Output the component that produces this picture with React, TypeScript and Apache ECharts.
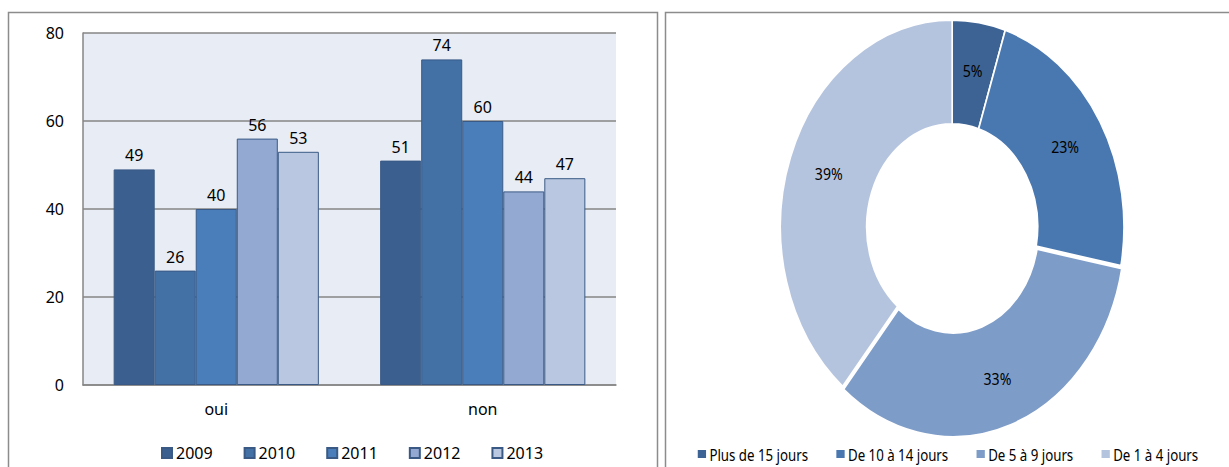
import React, { useEffect, useRef } from "react";
import * as echarts from "echarts";

const categories = ["oui", "non"];
const years = ["2009", "2010", "2011", "2012", "2013"];
const values2009 = [49, 51];
const values2010 = [26, 74];
const values2011 = [40, 60];
const values2012 = [56, 44];
const values2013 = [53, 47];
const yearValues = [values2009, values2010, values2011, values2012, values2013];
const barColors = ["#3B5F8E", "#4371A6", "#4A7EBB", "#93A9D1", "#B9C7E1"];
const yMin = 0;
const yMax = 80;
const yInterval = 20;

const durationLabels = ["Plus de 15 jours", "De 10 à 14 jours", "De 5 à 9 jours", "De 1 à 4 jours"];
const durationShares = [5, 23, 33, 39];
const pieColors = ["#3C6394", "#4977B0", "#7E9CC8", "#B5C4DE"];

const FONT = "Noto Sans";
const PIE_SCALE = 0.83;

export default function App() {
  const mainRef = useRef<HTMLDivElement>(null);
  const pieRef = useRef<HTMLDivElement>(null);

  useEffect(() => {
    const main = echarts.init(mainRef.current!, null, { renderer: "svg" });
    const pie = echarts.init(pieRef.current!, null, { renderer: "svg" });

    main.setOption({
      animation: false,
      textStyle: { fontFamily: FONT },
      graphic: [
        { type: "rect", shape: { x: 8.5, y: 12.5, width: 649, height: 480 }, style: { fill: "none", stroke: "#8C8C8C", lineWidth: 1.5 } },
        { type: "rect", shape: { x: 665.5, y: 12.5, width: 600, height: 480 }, style: { fill: "none", stroke: "#8C8C8C", lineWidth: 1.5 } },
      ],
      grid: {
        left: 83,
        top: 33,
        width: 533,
        height: 352,
        show: true,
        backgroundColor: "#E8ECF4",
        borderWidth: 0,
      },
      legend: {
        data: years,
        left: 156,
        top: 440,
        itemWidth: 10,
        itemHeight: 10,
        itemGap: 31,
        icon: "rect",
        textStyle: { fontFamily: FONT, fontSize: 16, color: "#000", padding: [0, 0, 0, -1] },
      },
      xAxis: {
        type: "category",
        data: categories,
        axisLine: { show: true, lineStyle: { color: "#868686", width: 1.5 } },
        axisTick: { show: false },
        axisLabel: { fontFamily: FONT, fontSize: 16, color: "#000", margin: 16 },
      },
      yAxis: {
        type: "value",
        min: yMin,
        max: yMax,
        interval: yInterval,
        axisLine: { show: true, lineStyle: { color: "#868686", width: 1.5 } },
        axisTick: { show: false },
        axisLabel: { fontFamily: FONT, fontSize: 16, color: "#000", margin: 19 },
        splitLine: { show: true, lineStyle: { color: "#868686", width: 1.5 } },
      },
      series: years.map((y, i) => ({
        name: y,
        type: "bar",
        data: yearValues[i],
        barGap: "0%",
        barCategoryGap: "23%",
        itemStyle: { color: barColors[i], borderColor: "#3A5A85", borderWidth: 1 },
        label: {
          show: true,
          position: "top",
          distance: 6,
          fontFamily: FONT,
          fontSize: 16,
          color: "#000",
        },
      })),
    });

    pie.setOption({
      animation: false,
      textStyle: { fontFamily: FONT },
      legend: {
        data: durationLabels,
        left: "center",
        top: 441,
        itemWidth: 12,
        itemHeight: 10,
        itemGap: 32,
        icon: "rect",
        textStyle: { fontFamily: FONT, fontSize: 16, color: "#000", padding: [0, 0, 0, -2] },
      },
      series: [
        {
          type: "pie",
          center: [346, 227],
          radius: [103, 207],
          startAngle: 90,
          clockwise: true,
          selectedMode: "single",
          selectedOffset: 3,
          itemStyle: { borderColor: "#fff", borderWidth: 2 },
          label: {
            show: true,
            position: "inside",
            formatter: "{c}%",
            fontFamily: FONT,
            fontSize: 17,
            color: "#000",
          },
          labelLine: { show: false },
          emphasis: { disabled: true },
          data: durationLabels.map((n, i) => ({
            name: n,
            value: durationShares[i],
            selected: i === 2,
            itemStyle: { color: pieColors[i] },
          })),
        },
      ],
    });

    return () => {
      main.dispose();
      pie.dispose();
    };
  }, []);

  return (
    <div style={{ position: "fixed", left: 0, top: 0, width: 1229, height: 467, overflow: "hidden", background: "#fff" }}>
      <div ref={mainRef} style={{ position: "absolute", left: 0, top: 0, width: 1229, height: 467 }} />
      <div
        ref={pieRef}
        style={{
          position: "absolute",
          left: 665,
          top: 0,
          width: Math.round(564 / PIE_SCALE),
          height: 467,
          transform: `scaleX(${PIE_SCALE})`,
          transformOrigin: "left top",
        }}
      />
    </div>
  );
}
